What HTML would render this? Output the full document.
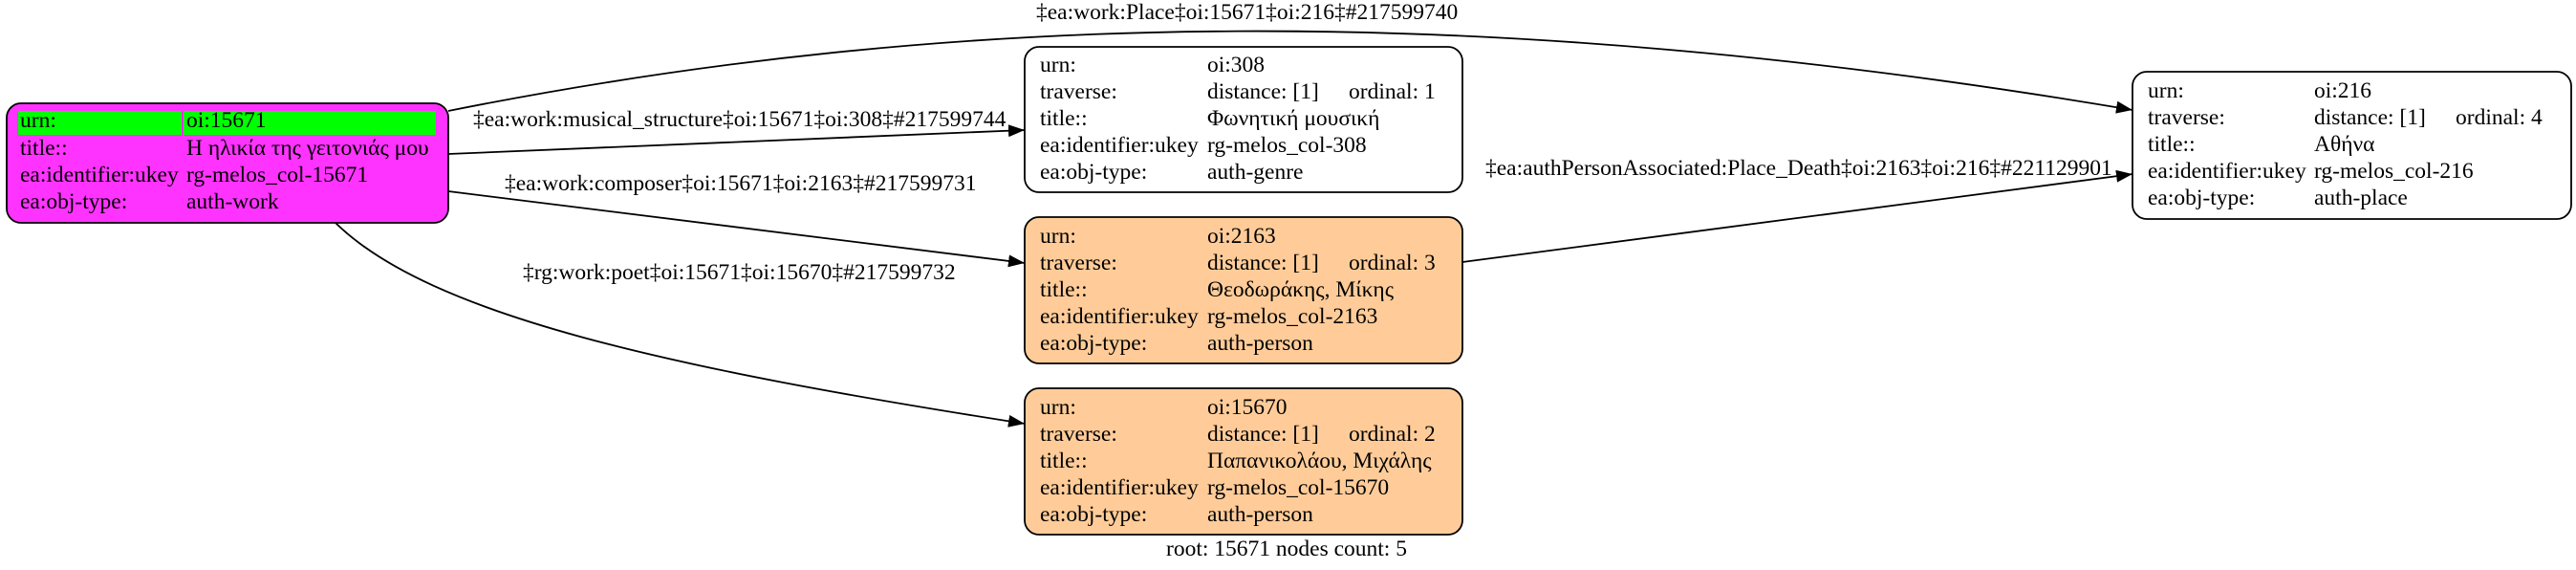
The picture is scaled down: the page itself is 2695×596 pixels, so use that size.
<!DOCTYPE html>
<html><head><meta charset="utf-8"><style>
html,body{margin:0;padding:0;background:#fff;}
svg{display:block;}
text{font-family:"Liberation Serif","DejaVu Serif",serif;font-size:23.5px;fill:#000;}
</style></head><body>
<svg width="2695" height="596" viewBox="0 0 2695 596" xmlns="http://www.w3.org/2000/svg">
<defs>
<marker id="ah" markerUnits="userSpaceOnUse" markerWidth="18" markerHeight="13" refX="17" refY="6.5" orient="auto">
<path d="M0,0 L17,6.5 L0,13 z" fill="#000"/>
</marker>
</defs>
<g fill="none" stroke="#000" stroke-width="1.8">
<path d="M469,116 C1000,10 1550,0 2231,115" marker-end="url(#ah)"/>
<path d="M469,161 L1072,136" marker-end="url(#ah)"/>
<path d="M469,200 L1072,275" marker-end="url(#ah)"/>
<path d="M351,233 C450,330 700,385 1072,443" marker-end="url(#ah)"/>
<path d="M1530,274 L2231,182" marker-end="url(#ah)"/>
</g>
<rect x="7" y="108" width="462" height="125" rx="15" fill="#ff33ff" stroke="#000" stroke-width="1.8"/>
<rect x="19" y="116" width="171" height="25" fill="#00ff00"/>
<rect x="192" y="116" width="264" height="25" fill="#00ff00"/>
<text x="21" y="133">urn:</text><text x="195" y="133">oi:15671</text>
<text x="21" y="162">title::</text><text x="195" y="162">Η ηλικία της γειτονιάς μου</text>
<text x="21" y="190">ea:identifier:ukey</text><text x="195" y="190">rg-melos_col-15671</text>
<text x="21" y="218">ea:obj-type:</text><text x="195" y="218">auth-work</text>
<rect x="1072" y="49" width="458" height="152" rx="15" fill="#fff" stroke="#000" stroke-width="1.8"/>
<text x="1088" y="75">urn:</text><text x="1263" y="75">oi:308</text>
<text x="1088" y="103">traverse:</text><text x="1263" y="103">distance: [1]</text><text x="1411" y="103">ordinal: 1</text>
<text x="1088" y="131">title::</text><text x="1263" y="131">Φωνητική μουσική</text>
<text x="1088" y="159">ea:identifier:ukey</text><text x="1263" y="159">rg-melos_col-308</text>
<text x="1088" y="187">ea:obj-type:</text><text x="1263" y="187">auth-genre</text>
<rect x="1072" y="227" width="458" height="153" rx="15" fill="#ffcc99" stroke="#000" stroke-width="1.8"/>
<text x="1088" y="254">urn:</text><text x="1263" y="254">oi:2163</text>
<text x="1088" y="282">traverse:</text><text x="1263" y="282">distance: [1]</text><text x="1411" y="282">ordinal: 3</text>
<text x="1088" y="310">title::</text><text x="1263" y="310">Θεοδωράκης, Μίκης</text>
<text x="1088" y="338">ea:identifier:ukey</text><text x="1263" y="338">rg-melos_col-2163</text>
<text x="1088" y="366">ea:obj-type:</text><text x="1263" y="366">auth-person</text>
<rect x="1072" y="406" width="458" height="153" rx="15" fill="#ffcc99" stroke="#000" stroke-width="1.8"/>
<text x="1088" y="433">urn:</text><text x="1263" y="433">oi:15670</text>
<text x="1088" y="461">traverse:</text><text x="1263" y="461">distance: [1]</text><text x="1411" y="461">ordinal: 2</text>
<text x="1088" y="489">title::</text><text x="1263" y="489">Παπανικολάου, Μιχάλης</text>
<text x="1088" y="517">ea:identifier:ukey</text><text x="1263" y="517">rg-melos_col-15670</text>
<text x="1088" y="545">ea:obj-type:</text><text x="1263" y="545">auth-person</text>
<rect x="2231" y="75" width="459" height="154" rx="15" fill="#fff" stroke="#000" stroke-width="1.8"/>
<text x="2247" y="102">urn:</text><text x="2421" y="102">oi:216</text>
<text x="2247" y="130">traverse:</text><text x="2421" y="130">distance: [1]</text><text x="2569" y="130">ordinal: 4</text>
<text x="2247" y="158">title::</text><text x="2421" y="158">Αθήνα</text>
<text x="2247" y="186">ea:identifier:ukey</text><text x="2421" y="186">rg-melos_col-216</text>
<text x="2247" y="214">ea:obj-type:</text><text x="2421" y="214">auth-place</text>
<text x="1084" y="20">‡ea:work:Place‡oi:15671‡oi:216‡#217599740</text>
<text x="495" y="132">‡ea:work:musical_structure‡oi:15671‡oi:308‡#217599744</text>
<text x="528" y="199">‡ea:work:composer‡oi:15671‡oi:2163‡#217599731</text>
<text x="547" y="292">‡rg:work:poet‡oi:15671‡oi:15670‡#217599732</text>
<text x="1554" y="183">‡ea:authPersonAssociated:Place_Death‡oi:2163‡oi:216‡#221129901</text>
<text x="1220" y="581">root: 15671 nodes count: 5</text>
</svg>
</body></html>
